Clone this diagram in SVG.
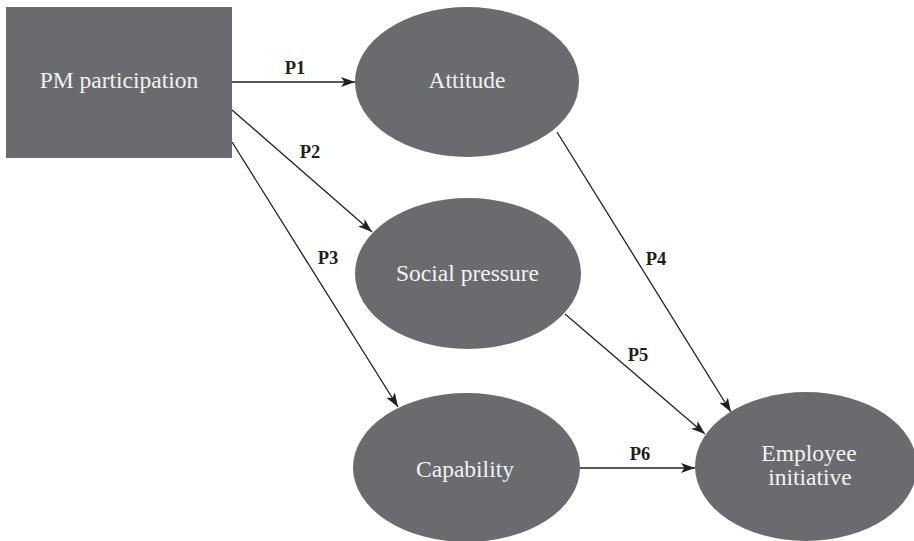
<svg xmlns="http://www.w3.org/2000/svg" width="914" height="541" viewBox="0 0 914 541">
<style>
.node{fill:#6a6b6f}
.nt{font-family:"Liberation Serif","Times New Roman",serif;font-size:23.5px;fill:#f2f2f2;text-anchor:middle}
.lbl{font-family:"Liberation Serif","Times New Roman",serif;font-size:18.5px;font-weight:bold;fill:#231f20;text-anchor:middle}
.edge{stroke:#231f20;stroke-width:1.3;fill:none;marker-end:url(#arr)}
</style>
<defs>
<marker id="arr" markerUnits="userSpaceOnUse" markerWidth="16" markerHeight="12" refX="14" refY="5" orient="auto">
<path d="M0,0 L14,5 L0,10 L3.5,5 Z" fill="#231f20"/>
</marker>
</defs>
<rect width="914" height="541" fill="#ffffff"/>
<g id="connectors">
<line class="edge" x1="232" y1="82" x2="355" y2="82"/>
<line class="edge" x1="232" y1="110" x2="372" y2="232"/>
<line class="edge" x1="232" y1="142" x2="398" y2="407"/>
<line class="edge" x1="557" y1="132" x2="731" y2="412"/>
<line class="edge" x1="565" y1="314" x2="705" y2="434"/>
<line class="edge" x1="580" y1="468" x2="695" y2="468"/>
<text class="lbl" x="295" y="74">P1</text>
<text class="lbl" x="310" y="158">P2</text>
<text class="lbl" x="328" y="264">P3</text>
<text class="lbl" x="656" y="265">P4</text>
<text class="lbl" x="638" y="361">P5</text>
<text class="lbl" x="640" y="460">P6</text>
</g>
<g id="pm">
<rect class="node" x="6" y="7" width="226" height="151"/>
<text class="nt" x="119" y="88">PM participation</text>
</g>
<g id="attitude">
<ellipse class="node" cx="467" cy="82" rx="112" ry="75"/>
<text class="nt" x="467" y="88">Attitude</text>
</g>
<g id="social">
<ellipse class="node" cx="468" cy="273.5" rx="113" ry="75.5"/>
<text class="nt" x="467.5" y="281">Social pressure</text>
</g>
<g id="capability">
<ellipse class="node" cx="466.5" cy="467.5" rx="113.5" ry="74.5"/>
<text class="nt" x="465" y="477">Capability</text>
</g>
<g id="employee">
<ellipse class="node" cx="806" cy="466.5" rx="111" ry="74.5"/>
<text class="nt" x="809" y="461">Employee</text>
<text class="nt" x="810" y="485">initiative</text>
</g>
</svg>
